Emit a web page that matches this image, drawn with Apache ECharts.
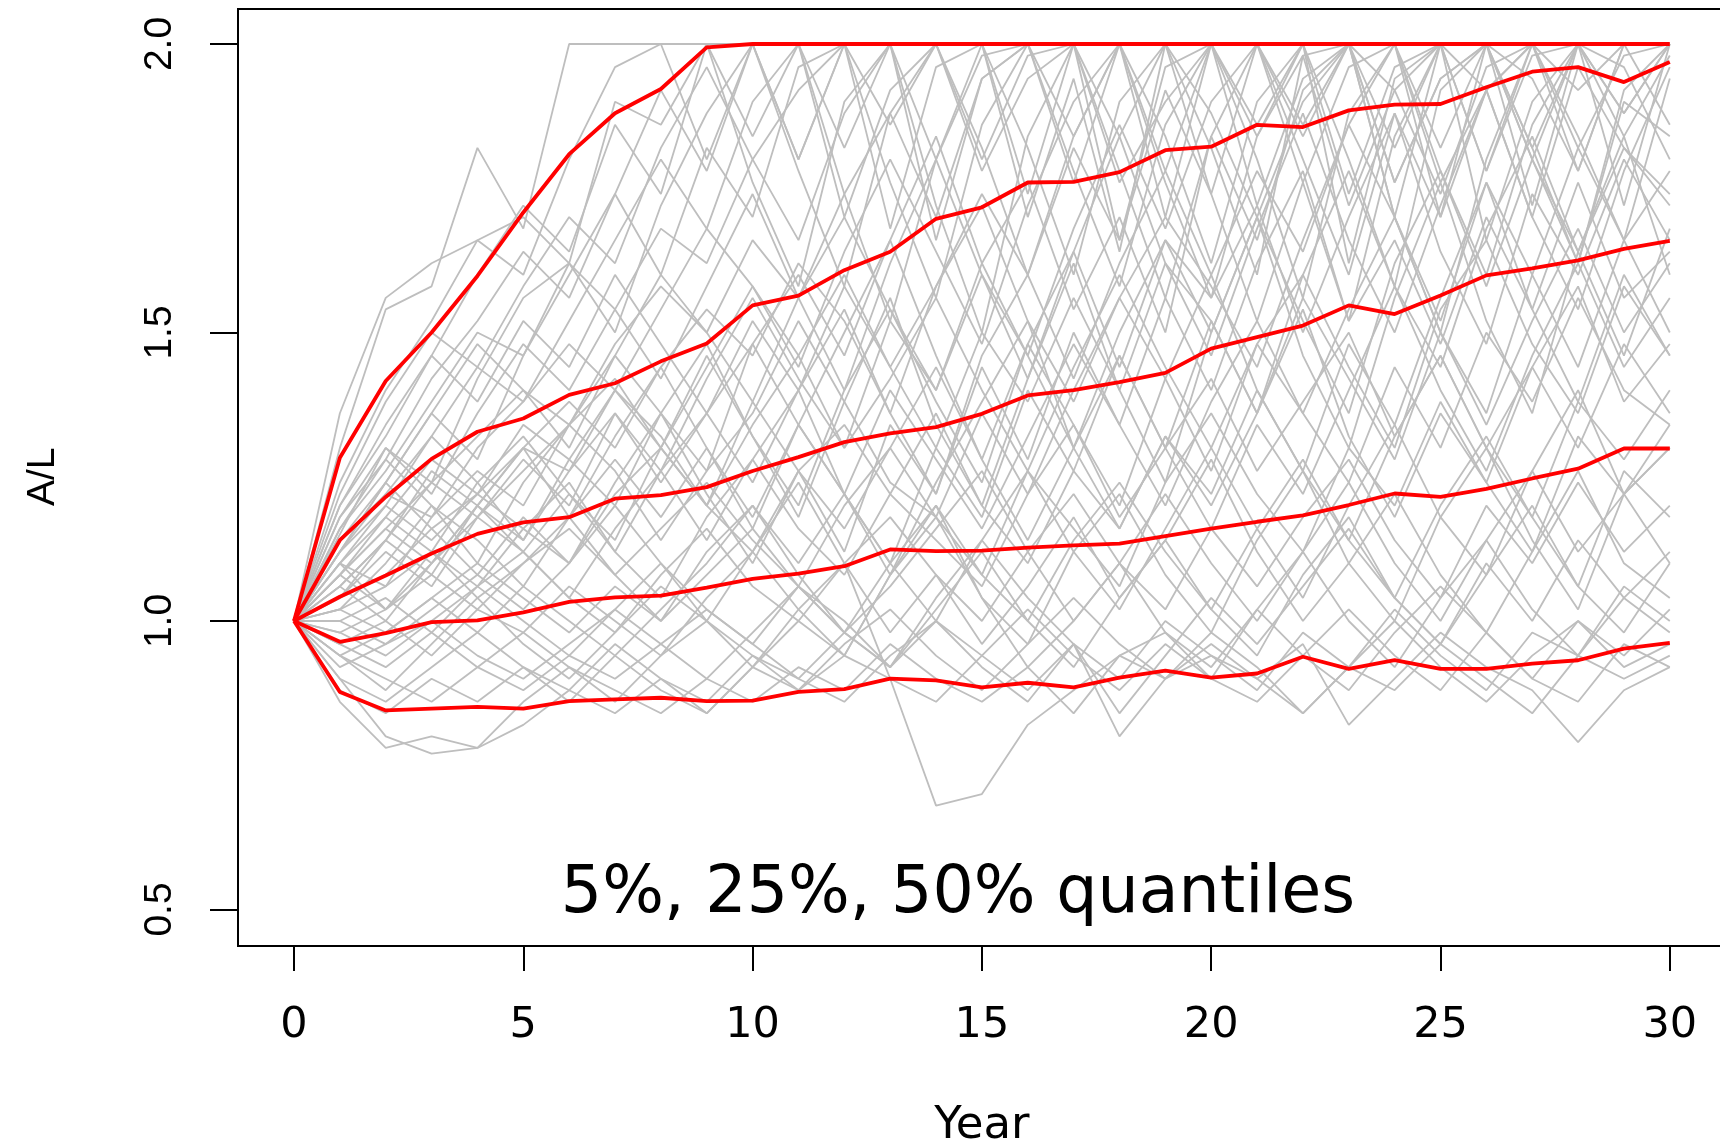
<!DOCTYPE html>
<html><head><meta charset="utf-8">
<script src="https://cdn.jsdelivr.net/npm/echarts@6/dist/echarts.min.js"></script>
<style>html,body{margin:0;padding:0;background:#fff}#c{width:1720px;height:1145px}</style>
</head><body><div id="c"></div>
<script>
const years = [0,1,2,3,4,5,6,7,8,9,10,11,12,13,14,15,16,17,18,19,20,21,22,23,24,25,26,27,28,29,30];
const xTicks = [0,5,10,15,20,25,30];
const yTicks = [0.5,1.0,1.5,2.0];
const q95 = [1,1.283,1.416,1.50,1.598,1.708,1.809,1.880,1.922,1.994,2,2,2,2,2,2,2,2,2,2,2,2,2,2,2,2,2,2,2,2,2];
const q75 = [1,1.140,1.215,1.281,1.328,1.351,1.392,1.412,1.450,1.481,1.547,1.564,1.608,1.640,1.697,1.717,1.760,1.761,1.778,1.816,1.822,1.860,1.856,1.885,1.895,1.896,1.925,1.952,1.960,1.934,1.969];
const q50 = [1,1.042,1.079,1.117,1.151,1.171,1.180,1.212,1.218,1.232,1.260,1.284,1.310,1.325,1.336,1.359,1.391,1.400,1.414,1.430,1.472,1.492,1.512,1.547,1.532,1.564,1.599,1.611,1.625,1.645,1.659];
const q25 = [1,0.964,0.979,0.998,1.001,1.015,1.033,1.041,1.044,1.058,1.073,1.082,1.095,1.124,1.121,1.122,1.127,1.131,1.134,1.147,1.160,1.172,1.183,1.201,1.221,1.215,1.229,1.247,1.264,1.299,1.299];
const q05 = [1,0.877,0.845,0.848,0.851,0.848,0.861,0.864,0.867,0.861,0.862,0.877,0.882,0.900,0.897,0.885,0.893,0.885,0.902,0.914,0.902,0.909,0.938,0.917,0.932,0.917,0.917,0.926,0.932,0.952,0.962];
const paths = [
[1,1.30,1.54,1.58,1.82,1.68,2,2,2,1.80,2,1.80,2,1.68,1.96,2,1.74,2,2,1.70,2,1.86,2,1.62,1.94,2,1.78,2,1.92,2,2],
[1,1.36,1.56,1.62,1.66,1.70,1.62,1.90,1.86,2,1.76,1.58,1.90,2,1.72,1.50,1.84,2,1.66,1.96,2,1.80,1.56,1.88,2,1.70,2,2,1.84,1.66,1.94],
[1,1.24,1.40,1.52,1.66,1.60,1.80,1.96,2,2,1.84,2,1.70,1.92,2,1.82,1.60,1.84,2,2,1.74,2,2,1.80,1.58,1.92,2,1.72,2,2,1.86],
[1,1.20,1.34,1.46,1.60,1.72,1.64,1.86,1.74,2,2,1.78,1.58,1.88,2,2,1.70,1.94,1.64,2,1.82,1.60,1.98,2,1.70,2,1.78,1.98,2,1.72,2],
[1,1.18,1.28,1.42,1.52,1.64,1.56,1.74,1.92,1.78,2,2,1.82,2,1.66,1.94,2,1.76,2,1.84,1.62,1.90,2,1.74,1.96,2,2,1.82,1.62,1.92,2],
[1,1.15,1.30,1.24,1.42,1.56,1.62,1.50,1.72,1.88,2,1.80,2,1.76,1.56,1.86,2,2,1.78,1.56,1.84,2,1.86,2,1.70,1.50,1.80,2,2,1.96,1.80],
[1,1.12,1.24,1.36,1.28,1.46,1.60,1.74,1.60,1.82,1.70,1.96,2,2,1.80,2,1.82,1.60,1.90,2,2,1.72,1.94,2,1.82,2,1.66,1.90,2,2,2],
[1,1.10,1.20,1.32,1.44,1.38,1.52,1.66,1.80,1.68,1.90,2,1.74,1.52,1.80,1.98,2,1.84,2,1.78,2,2,1.76,1.52,1.84,2,1.92,2,1.78,2,2],
[1,1.08,1.16,1.24,1.32,1.40,1.34,1.48,1.58,1.50,1.66,1.56,1.74,1.88,1.70,1.94,2,1.78,1.58,1.86,2,1.84,2,2,1.76,1.94,2,1.80,2,2,2],
[1,1.14,1.22,1.18,1.30,1.38,1.48,1.40,1.54,1.68,1.58,1.44,1.64,1.80,1.64,1.48,1.72,1.90,2,1.76,1.56,1.84,1.98,1.72,1.92,2,2,1.82,2,1.88,2],
[1,1.06,1.14,1.26,1.20,1.30,1.38,1.30,1.44,1.54,1.46,1.62,1.52,1.36,1.58,1.74,1.60,1.82,1.66,1.92,1.74,1.52,1.76,1.96,2,1.78,1.60,1.86,2,1.84,1.98],
[1,1.10,1.06,1.18,1.26,1.20,1.34,1.46,1.36,1.26,1.48,1.60,1.46,1.66,1.84,1.62,1.46,1.68,1.86,1.68,1.90,2,1.80,1.60,1.88,1.70,1.92,2,1.82,1.98,2],
[1,1.04,1.12,1.06,1.18,1.28,1.20,1.36,1.26,1.42,1.56,1.42,1.30,1.52,1.40,1.62,1.76,1.54,1.70,1.50,1.84,1.66,1.92,2,1.76,1.94,2,1.80,1.62,1.90,1.84],
[1,1.12,1.22,1.32,1.24,1.14,1.28,1.40,1.30,1.46,1.32,1.20,1.40,1.54,1.38,1.24,1.48,1.64,1.44,1.66,1.50,1.70,1.52,1.36,1.62,1.78,1.58,1.80,1.64,1.46,1.68],
[1,1.06,1.00,1.10,1.18,1.12,1.22,1.12,1.26,1.36,1.24,1.40,1.54,1.36,1.22,1.46,1.60,1.42,1.62,1.78,1.60,1.78,1.64,1.86,2,1.76,1.92,1.70,1.96,1.82,1.72],
[1,1.08,1.18,1.12,1.24,1.32,1.22,1.14,1.30,1.20,1.38,1.26,1.12,1.34,1.22,1.44,1.28,1.50,1.34,1.56,1.40,1.62,1.78,1.52,1.66,1.48,1.70,1.54,1.76,1.56,1.64],
[1,1.02,1.10,1.20,1.14,1.06,1.18,1.28,1.18,1.30,1.18,1.34,1.22,1.10,1.30,1.18,1.40,1.26,1.46,1.30,1.52,1.36,1.56,1.42,1.28,1.50,1.36,1.60,1.44,1.66,1.50],
[1,1.16,1.28,1.20,1.10,1.24,1.34,1.26,1.14,1.26,1.36,1.52,1.38,1.24,1.18,1.36,1.22,1.40,1.56,1.42,1.26,1.48,1.60,1.44,1.30,1.54,1.66,1.48,1.36,1.58,1.46],
[1,1.04,1.08,1.16,1.22,1.16,1.10,1.22,1.30,1.20,1.12,1.26,1.34,1.22,1.14,1.06,1.22,1.34,1.18,1.30,1.42,1.26,1.38,1.50,1.32,1.46,1.30,1.44,1.58,1.38,1.48],
[1,1.10,1.02,1.12,1.06,1.16,1.24,1.12,1.04,1.18,1.28,1.16,1.08,1.22,1.36,1.20,1.10,1.26,1.16,1.32,1.22,1.40,1.26,1.14,1.32,1.46,1.30,1.18,1.38,1.28,1.40],
[1,1.20,1.32,1.46,1.38,1.52,1.44,1.60,1.48,1.36,1.52,1.40,1.58,1.44,1.30,1.50,1.38,1.56,1.40,1.62,1.52,1.36,1.60,1.78,1.58,1.44,1.68,1.84,1.64,1.82,1.74],
[1,1.14,1.24,1.36,1.48,1.40,1.30,1.46,1.60,1.50,1.38,1.56,1.70,1.54,1.40,1.60,1.46,1.30,1.50,1.66,1.56,1.72,1.50,1.70,1.88,1.64,1.48,1.74,1.60,1.80,1.66],
[1,1.08,1.16,1.10,1.20,1.14,1.26,1.36,1.24,1.36,1.48,1.34,1.22,1.40,1.28,1.16,1.32,1.48,1.34,1.20,1.38,1.52,1.36,1.24,1.44,1.30,1.50,1.38,1.56,1.40,1.34],
[1,1.02,1.06,1.12,1.04,1.10,1.18,1.08,1.16,1.24,1.14,1.06,1.20,1.30,1.18,1.08,1.26,1.16,1.06,1.24,1.36,1.22,1.12,1.30,1.20,1.38,1.24,1.12,1.32,1.22,1.30],
[1,1.12,1.20,1.14,1.22,1.30,1.26,1.40,1.32,1.20,1.34,1.46,1.30,1.42,1.56,1.40,1.26,1.44,1.60,1.44,1.30,1.48,1.36,1.54,1.70,1.50,1.34,1.52,1.68,1.50,1.62],
[1,1.06,1.14,1.24,1.18,1.26,1.34,1.42,1.30,1.44,1.58,1.46,1.60,1.44,1.58,1.72,1.52,1.38,1.56,1.70,1.58,1.44,1.66,1.86,1.70,1.52,1.76,1.60,1.82,1.66,1.78],
[1,0.96,1.00,0.94,1.02,0.98,1.06,1.00,0.94,1.04,1.12,1.02,0.94,1.08,1.18,1.04,0.96,1.12,1.22,1.08,0.98,1.14,1.26,1.10,1.00,1.18,1.30,1.14,1.02,1.22,1.30],
[1,0.92,0.96,1.00,0.94,0.90,0.96,1.02,0.96,0.90,0.98,1.06,0.98,0.92,1.02,1.12,1.00,0.92,1.04,1.14,1.02,0.94,1.08,1.18,1.04,0.96,1.10,1.00,1.14,1.04,1.12],
[1,0.88,0.84,0.90,0.86,0.92,0.88,0.84,0.90,0.86,0.94,0.90,0.86,0.94,1.00,0.92,0.86,0.96,0.90,1.00,0.94,0.88,0.98,0.92,1.02,0.94,0.88,0.98,0.94,1.04,0.98],
[1,0.86,0.78,0.80,0.78,0.86,0.92,0.88,0.84,0.90,0.86,0.92,0.88,0.96,0.90,0.86,0.92,0.84,0.94,0.90,0.96,0.90,0.84,0.92,0.88,0.96,0.90,0.84,0.94,0.90,0.94],
[1,0.90,0.80,0.77,0.78,0.82,0.88,0.96,0.90,0.84,0.92,1.00,0.94,1.08,1.20,1.04,0.92,1.00,1.10,0.98,0.90,1.02,1.12,1.00,0.92,1.04,1.14,1.02,0.94,1.06,1.00],
[1,0.94,0.88,0.96,1.04,0.96,0.90,0.98,1.06,1.00,0.92,1.02,1.10,0.90,0.68,0.70,0.82,0.88,0.94,0.98,0.92,1.02,0.94,0.88,0.98,1.06,0.98,0.90,1.00,0.94,1.02],
[1,0.98,0.94,1.00,1.06,1.00,0.94,1.02,1.10,1.02,0.96,1.06,1.00,0.92,1.04,1.14,1.04,0.96,0.84,0.94,1.04,0.96,1.06,1.16,1.04,0.96,1.08,1.20,1.06,0.98,1.10],
[1,1.00,1.04,0.98,1.06,1.12,1.04,0.98,1.08,1.16,1.06,1.00,1.10,1.18,1.08,1.00,1.12,1.22,1.10,1.02,1.16,1.06,1.18,1.28,1.14,1.04,1.20,1.10,1.24,1.12,1.20],
[1,0.94,0.90,0.86,0.92,0.98,0.92,0.86,0.94,1.00,0.94,0.88,0.96,1.02,0.94,0.88,0.96,1.04,0.96,0.90,0.98,0.92,0.84,0.92,1.00,0.92,0.86,0.94,1.00,0.92,0.96],
[1,0.96,0.92,0.98,0.92,0.88,0.94,0.90,0.96,1.02,0.96,0.90,0.98,0.92,1.00,0.94,0.88,0.96,0.80,0.90,0.94,0.90,0.96,0.82,0.90,0.98,0.92,0.88,0.79,0.88,0.92],
[1,1.02,0.98,1.04,1.10,1.04,0.98,1.06,1.00,1.08,1.16,1.06,0.98,1.10,1.20,1.08,1.00,1.14,1.24,1.12,1.02,1.16,1.28,1.14,1.04,1.20,1.32,1.18,1.06,1.26,1.18],
[1,0.98,1.02,1.08,1.02,1.10,1.16,1.08,1.00,1.12,1.20,1.10,1.22,1.10,1.00,1.14,1.26,1.12,1.02,1.16,1.30,1.16,1.04,1.20,1.34,1.18,1.08,1.26,1.40,1.22,1.34],
[1,0.90,0.86,0.92,0.98,0.92,0.86,0.94,0.88,0.84,0.92,0.88,0.94,0.90,0.86,0.94,1.02,0.94,0.88,0.96,0.90,0.86,0.94,1.02,0.94,0.88,0.98,0.90,0.86,0.96,0.92],
[1,0.94,0.98,1.04,0.98,1.06,1.00,0.94,1.02,1.10,1.20,1.08,0.98,1.06,1.16,1.26,1.12,1.00,1.10,1.22,1.10,1.00,1.12,1.24,1.10,1.00,1.14,1.26,1.12,1.22,1.10],
[1,1.22,1.38,1.50,1.44,1.58,1.70,1.62,1.82,1.96,1.80,1.66,1.88,2,2,1.78,1.94,2,1.76,1.90,2,2,1.84,2,1.92,1.74,1.96,2,2,1.88,2],
[1,1.16,1.26,1.38,1.50,1.46,1.62,1.54,1.68,1.62,1.80,1.92,2,1.86,2,1.80,1.98,2,1.84,2,1.88,1.70,1.90,2,2,1.82,2,1.94,1.78,2,2],
[1,1.10,1.18,1.28,1.22,1.34,1.28,1.20,1.36,1.48,1.32,1.18,1.38,1.56,1.34,1.20,1.42,1.62,1.40,1.24,1.50,1.70,1.46,1.30,1.56,1.76,1.52,1.36,1.64,1.84,1.60],
[1,1.04,1.14,1.08,1.20,1.30,1.18,1.32,1.44,1.30,1.16,1.34,1.50,1.66,1.46,1.28,1.48,1.34,1.20,1.42,1.60,1.40,1.26,1.48,1.34,1.56,1.76,1.54,1.38,1.60,1.46],
[1,1.08,1.02,1.10,1.20,1.12,1.04,1.16,1.26,1.14,1.28,1.40,1.22,1.08,1.24,1.38,1.52,1.30,1.16,1.32,1.20,1.36,1.54,1.32,1.18,1.36,1.24,1.44,1.30,1.48,1.36],
[1,1.18,1.30,1.22,1.36,1.48,1.40,1.54,1.42,1.58,1.74,1.56,1.40,1.62,1.80,1.60,1.42,1.64,1.84,1.62,1.46,1.68,1.88,1.66,1.50,1.72,1.92,1.70,1.54,1.78,1.96],
[1,1.00,0.96,1.02,1.08,1.02,1.10,1.20,1.10,1.00,1.12,1.24,1.10,0.98,1.08,0.96,1.06,1.18,1.04,1.14,1.28,1.12,1.00,1.10,1.22,1.08,0.98,1.12,1.26,1.10,1.04],
[1,1.12,1.24,1.16,1.08,1.18,1.10,1.24,1.36,1.22,1.10,1.26,1.16,1.30,1.44,1.28,1.14,1.30,1.46,1.30,1.16,1.34,1.22,1.40,1.58,1.40,1.26,1.46,1.62,1.44,1.56]
];
const quantiles = [q95, q75, q50, q25, q05];
const noteText = '5%, 25%, 50% quantiles';

const pair = arr => years.map((y, i) => [y, arr[i]]);
const series = [];
paths.forEach(p => series.push({
  type: 'line', xAxisIndex: 0, yAxisIndex: 0, data: pair(p), symbol: 'none', clip: false, silent: true,
  lineStyle: { color: '#BEBEBE', width: 1.8 }, z: 2
}));
quantiles.forEach(q => series.push({
  type: 'line', xAxisIndex: 0, yAxisIndex: 0, data: pair(q), symbol: 'none', clip: false, silent: true,
  lineStyle: { color: '#FF0000', width: 3.8 }, z: 3
}));

const yMin = yTicks[0], yMax = yTicks[yTicks.length - 1];
const chart = echarts.init(document.getElementById('c'), null, { renderer: 'canvas' });
chart.setOption({
  animation: false,
  backgroundColor: '#fff',
  grid: [
    { left: 294, top: 44, width: 1375.8, height: 865.5, show: false, outerBoundsMode: 'none', containLabel: false },
    { left: 238, top: 9, width: 1487, height: 937, show: true, borderColor: '#000', borderWidth: 2, backgroundColor: 'transparent', z: 5, outerBoundsMode: 'none', containLabel: false },
    { left: 238, top: 44, width: 60, height: 865.5, show: false, outerBoundsMode: 'none', containLabel: false }
  ],
  xAxis: [
    { gridIndex: 0, type: 'value', min: xTicks[0], max: xTicks[xTicks.length - 1], interval: 5, offset: 36.5,
      axisLine: { show: false, onZero: false }, splitLine: { show: false },
      axisTick: { show: true, length: 25, lineStyle: { color: '#000', width: 2 } },
      axisLabel: { margin: 58, fontSize: 43, fontFamily: 'DejaVu Sans', color: '#000', showMinLabel: true, showMaxLabel: true },
      name: 'Year', nameLocation: 'middle', nameGap: 158,
      nameTextStyle: { fontSize: 45, fontFamily: 'DejaVu Sans', color: '#000' } },
    { gridIndex: 1, type: 'value', show: false, min: 0, max: 1 },
    { gridIndex: 2, type: 'value', show: false, min: 0, max: 1 }
  ],
  yAxis: [
    { gridIndex: 0, type: 'value', show: false, min: yMin, max: yMax },
    { gridIndex: 1, type: 'value', show: false, min: 0, max: 1 },
    { gridIndex: 2, type: 'value', min: yMin, max: yMax, interval: 0.5, position: 'left',
      axisLine: { show: false, onZero: false }, splitLine: { show: false },
      axisTick: { show: true, length: 28, lineStyle: { color: '#000', width: 2 } },
      axisLabel: { margin: 58, rotate: 90, fontSize: 39, fontFamily: '"Liberation Sans"', color: '#000',
        showMinLabel: true, showMaxLabel: true, formatter: v => v.toFixed(1) },
      name: 'A/L', nameLocation: 'middle', nameRotate: 90, nameGap: 175,
      nameTextStyle: { fontSize: 39, fontFamily: '"Liberation Sans"', color: '#000' } }
  ],
  graphic: [{
    type: 'text', x: 958, y: 895, z: 10,
    style: { text: noteText, font: '65px "DejaVu Sans"', fill: '#000', align: 'center', verticalAlign: 'middle' }
  }],
  series: series
});
</script></body></html>
